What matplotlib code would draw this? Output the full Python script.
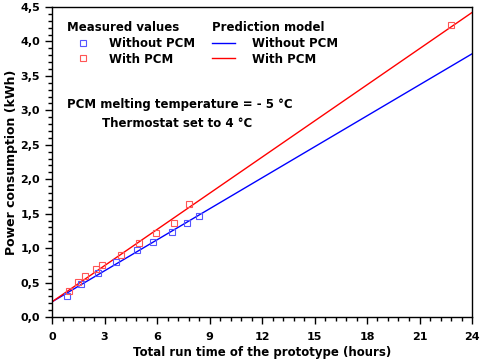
import matplotlib.pyplot as plt
from matplotlib.ticker import MultipleLocator, FuncFormatter
from matplotlib.lines import Line2D

# Measured values
hours_without = [0.84, 1.66, 2.65, 3.66, 4.84, 5.79, 6.86, 7.71, 8.4]
power_without = [0.31, 0.48, 0.64, 0.80, 0.97, 1.09, 1.24, 1.37, 1.47]
hours_with = [0.95, 1.47, 1.9, 2.51, 2.86, 3.96, 4.95, 5.94, 6.97, 7.83, 22.8]
power_with = [0.38, 0.51, 0.60, 0.69, 0.75, 0.90, 1.07, 1.22, 1.36, 1.64, 4.24]

# Prediction model (straight lines)
model_hours = [0, 24]
model_without = [0.22, 3.82]
model_with = [0.22, 4.42]

plt.rcParams['font.family'] = 'DejaVu Sans'
plt.rcParams['font.weight'] = 'bold'

fig = plt.figure(figsize=(4.8, 3.63), dpi=100)
ax = fig.add_axes([52 / 480, 46 / 363, 420 / 480, 310 / 363])

ax.plot(model_hours, model_without, color='#0000ff', lw=1.0)
ax.plot(model_hours, model_with, color='#ff0000', lw=1.0)
ax.plot(hours_without, power_without, ls='none', marker='s', ms=5, mfc='none',
        mec='#5555ff', mew=0.8)
ax.plot(hours_with, power_with, ls='none', marker='s', ms=5, mfc='none',
        mec='#ff5555', mew=0.8)

ax.set_xlim(0, 24)
ax.set_ylim(0, 4.5)
ax.xaxis.set_major_locator(MultipleLocator(3))
ax.xaxis.set_minor_locator(MultipleLocator(0.6))
ax.yaxis.set_major_locator(MultipleLocator(0.5))
ax.yaxis.set_minor_locator(MultipleLocator(0.1))
ax.yaxis.set_major_formatter(FuncFormatter(lambda v, p: f"{v:.1f}".replace('.', ',')))
ax.tick_params(which='major', direction='out', length=5, width=1, labelsize=8)
ax.tick_params(which='minor', direction='out', length=3, width=1)
ax.tick_params(axis='x', pad=6)
for s in ax.spines.values():
    s.set_linewidth(1.0)

ax.set_xlabel('Total run time of the prototype (hours)', fontsize=8.5,
              fontweight='bold', labelpad=3)
ax.set_ylabel('Power consumption (kWh)', fontsize=9, fontweight='bold', labelpad=2)

# legends
meas_handles = [
    Line2D([], [], ls='none', marker='s', ms=5, mfc='none', mec='#5555ff', mew=0.8),
    Line2D([], [], ls='none', marker='s', ms=5, mfc='none', mec='#ff5555', mew=0.8),
]
leg1 = ax.legend(meas_handles, ['Without PCM', 'With PCM'], title='Measured values',
                 loc='upper left', bbox_to_anchor=(0.01, 0.99), frameon=False,
                 fontsize=8.5, title_fontproperties={'weight': 'bold', 'size': 8.5},
                 alignment='left', handlelength=2.8, handletextpad=0.8,
                 labelspacing=0.25)
ax.add_artist(leg1)
model_handles = [
    Line2D([], [], color='#0000ff', lw=1.0),
    Line2D([], [], color='#ff0000', lw=1.0),
]
ax.legend(model_handles, ['Without PCM', 'With PCM'], title='Prediction model',
          loc='upper left', bbox_to_anchor=(0.355, 0.99), frameon=False,
          fontsize=8.5, title_fontproperties={'weight': 'bold', 'size': 8.5},
          alignment='left', handlelength=2.0, handletextpad=1.4,
          labelspacing=0.25)

ax.text(0.035, 0.685, 'PCM melting temperature = - 5 °C', transform=ax.transAxes,
        fontsize=8.5, fontweight='bold', va='center')
ax.text(0.12, 0.625, 'Thermostat set to 4 °C', transform=ax.transAxes,
        fontsize=8.5, fontweight='bold', va='center')

fig.savefig('out.png', dpi=100)
